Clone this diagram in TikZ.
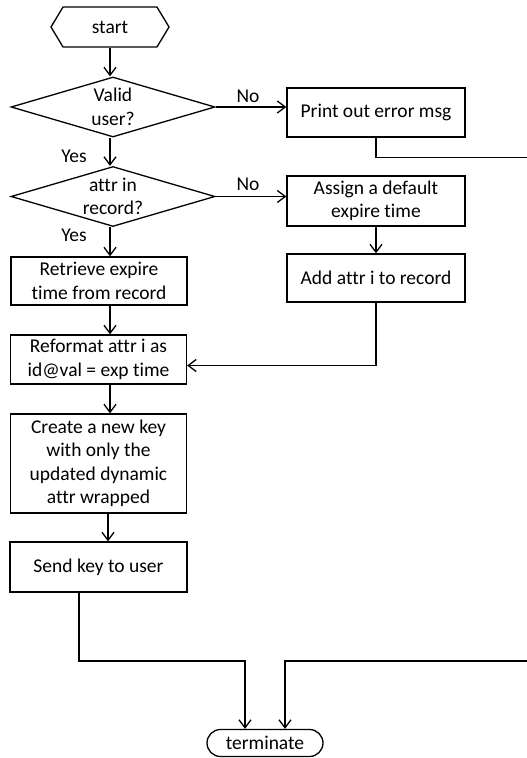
\documentclass[tikz,border=0pt]{standalone}
\usepackage{fontspec}
\setmainfont{Carlito}[Ligatures={NoCommon}]
\usetikzlibrary{arrows.meta,shapes.geometric,shapes.misc,shapes.symbols}

\begin{document}
\begin{tikzpicture}[x=1pt, y=-1pt, line width=1.3pt,
  font=\fontsize{19.5}{23.5}\selectfont,
  stepbox/.style={draw, rectangle, align=center, inner sep=2pt},
  decision/.style={draw, diamond, minimum width=204pt, minimum height=60pt, inner sep=0pt},
  arr/.style={-{Straight Barb[length=8pt,width=12pt]}},
  lbl/.style={inner sep=0pt}]

  \useasboundingbox (0,0) rectangle (527,758);
  \clip (0,0) rectangle (527,758);

  % terminals
  \node[draw, signal, signal to=west and east, signal pointer angle=118,
        minimum width=118pt, minimum height=40pt, inner sep=0pt] (start) at (110,27) {start};
  \node[draw, rounded rectangle, minimum width=116pt, minimum height=27pt, inner sep=0pt]
        (term) at (265,743) {terminate};

  % decisions
  \node[decision, label={[align=center]center:Valid\\user?}] (valid) at (113,107) {};
  \node[decision, label={[align=center]center:attr in\\record?}] (inrec) at (113,196.5) {};

  % process steps, left column
  \node[stepbox, minimum width=176pt, minimum height=48pt] (retr) at (99,281)
        {Retrieve expire\\time from record};
  \node[stepbox, minimum width=176pt, minimum height=49pt] (refmt) at (98.5,359.5)
        {Reformat attr i as\\id@val = exp time};
  \node[stepbox, minimum width=176pt, minimum height=99pt] (newkey) at (98.5,463.5)
        {Create a new key\\with only the\\updated dynamic\\attr wrapped};
  \node[stepbox, minimum width=177pt, minimum height=50pt] (send) at (98.5,567)
        {Send key to user};

  % process steps, right column
  \node[stepbox, minimum width=178pt, minimum height=49pt] (err) at (376,112.5)
        {Print out error msg};
  \node[stepbox, minimum width=178pt, minimum height=50pt] (assign) at (376,201)
        {Assign a default\\expire time};
  \node[stepbox, minimum width=178pt, minimum height=48pt] (addrec) at (376,278)
        {Add attr i to record};

  % branch labels
  \node[lbl] at (248,96) {No};
  \node[lbl] at (248,184) {No};
  \node[lbl] at (74,156) {Yes};
  \node[lbl] at (74,235) {Yes};

  % routing helpers
  \coordinate (col) at (110,0);
  \coordinate (offR) at (545,400);
  \coordinate (jL) at (79,661);
  \coordinate (jR) at (285,661);
  \coordinate (tL) at (245,0);

  % main column
  \draw[arr] (start.south) -- (col |- valid.north);
  \draw[arr] (col |- valid.south) -- (col |- inrec.north);
  \draw[arr] (col |- inrec.south) -- (col |- retr.north);
  \draw[arr] (col |- retr.south) -- (col |- refmt.north);
  \draw[arr] (col |- refmt.south) -- (col |- newkey.north);
  \draw[arr] (108,0 |- newkey.south) -- (108,0 |- send.north);

  % "No" branches
  \draw[arr] (valid.east) -- (valid.east -| err.west);
  \draw[arr] (inrec.east) -- (inrec.east -| assign.west);
  \draw[arr] (assign.south) -- (addrec.north);
  \draw[arr] (addrec.south) |- ([yshift=-6pt]refmt.east);

  % to terminate
  \draw[arr] (send.south -| jL) -- (jL) -| (tL |- term.north);
  \draw[arr] (err.south) -- ++(0,20) -| (offR) |- (jR) -- (jR |- term.north);
\end{tikzpicture}
\end{document}
